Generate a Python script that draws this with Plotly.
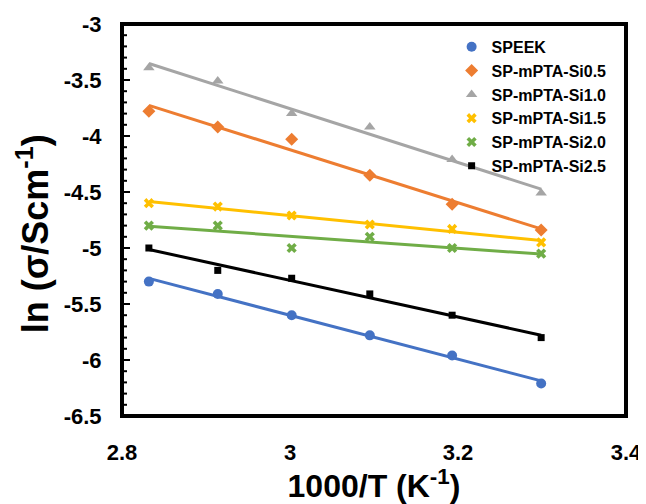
import plotly.graph_objects as go
import numpy as np

# 1000/T (K^-1) for 80,70,60,50,40,30 °C
x_vals = [2.832, 2.914, 3.002, 3.095, 3.193, 3.299]

speek = [-5.30, -5.41, -5.60, -5.78, -5.96, -6.21]
si05 = [-3.78, -3.92, -4.03, -4.35, -4.61, -4.84]
si10 = [-3.39, -3.51, -3.80, -3.92, -4.21, -4.51]
si15 = [-4.60, -4.63, -4.71, -4.79, -4.83, -4.95]
si20 = [-4.80, -4.80, -5.00, -4.90, -5.00, -5.05]
si25 = [-5.00, -5.20, -5.27, -5.41, -5.60, -5.80]

names = ["SPEEK", "SP-mPTA-Si0.5", "SP-mPTA-Si1.0", "SP-mPTA-Si1.5", "SP-mPTA-Si2.0", "SP-mPTA-Si2.5"]
series = [speek, si05, si10, si15, si20, si25]
colors = ["#4472C4", "#ED7D31", "#A5A5A5", "#FFC000", "#70AD47", "#000000"]
symbols = ["circle", "diamond", "triangle-up", "x", "x", "square"]
sizes = [10, 10, 10, 9, 9, 7]

x_range = [2.8, 3.4]
y_range = [-6.5, -3.0]
x_ticks = [2.8, 3.0, 3.2, 3.4]
x_ticktext = ["2.8", "3", "3.2", "3.4"]
y_ticks = [-6.5, -6.0, -5.5, -5.0, -4.5, -4.0, -3.5, -3.0]
y_ticktext = ["-6.5", "-6", "-5.5", "-5", "-4.5", "-4", "-3.5", "-3"]
y_minor_step = 0.1
x_title = "1000/T (K<sup>-1</sup>)"
y_title = "ln (σ/Scm<sup>-1</sup>)"

FONT = "Liberation Sans, Arial, sans-serif"
PLOT_W = 504  # plot-area width in px

fig = go.Figure()

# inside y ticks (major + minor), drawn as a trace so they render reliably
px_x = (x_range[1] - x_range[0]) / PLOT_W
tx, ty = [], []
for v in np.round(np.arange(y_range[0], y_range[1] + 1e-9, y_minor_step), 3):
    is_major = any(abs(v - t) < 1e-6 for t in y_ticks)
    ln = 8 if is_major else 5
    tx += [x_range[0], x_range[0] + ln * px_x, None]
    ty += [v, v, None]
fig.add_trace(go.Scatter(x=tx, y=ty, mode="lines", line=dict(color="black", width=2),
                         showlegend=False, hoverinfo="skip"))

x_arr = np.array(x_vals)
for name, ys, c in zip(names, series, colors):
    k, b = np.polyfit(x_arr, np.array(ys), 1)
    xl = [x_vals[0], x_vals[-1]]
    fig.add_trace(go.Scatter(
        x=xl, y=[k * xv + b for xv in xl], mode="lines",
        line=dict(color=c, width=3), showlegend=False, legendgroup=name,
        hoverinfo="skip"))
for name, ys, c, s, sz in zip(names, series, colors, symbols, sizes):
    fig.add_trace(go.Scatter(
        x=x_vals, y=ys, mode="markers", name="<b>%s</b>" % name, legendgroup=name,
        marker=dict(color=c, symbol=s, size=sz, line=dict(width=0))))

# plot-area frame
fx = [x_range[0], x_range[1], x_range[1], x_range[0], x_range[0]]
fy = [y_range[0], y_range[0], y_range[1], y_range[1], y_range[0]]
fig.add_trace(go.Scatter(x=fx, y=fy, mode="lines", line=dict(color="black", width=4),
                         showlegend=False, hoverinfo="skip"))

# page body has an 8px margin: shift the figure box accordingly
fig.update_layout(
    width=638, height=496,
    margin=dict(l=114, r=20, t=16, b=88, autoexpand=False),
    paper_bgcolor="white", plot_bgcolor="white",
    font=dict(family=FONT, color="black"),
    legend=dict(
        x=0.654, y=0.985, xanchor="left", yanchor="top",
        bgcolor="rgba(0,0,0,0)", font=dict(size=16, family=FONT, color="black"),
        tracegroupgap=0, itemwidth=30,
    ),
    xaxis=dict(
        range=x_range, tickmode="array", tickvals=x_ticks,
        ticktext=["<b>%s</b>" % t for t in x_ticktext],
        showgrid=False, zeroline=False, showline=True, linecolor="black", linewidth=2,
        mirror=True, ticks="", automargin=False, ticklabelstandoff=16,
        tickfont=dict(size=22, family=FONT, color="black"),
        title=dict(text="<b>%s</b>" % x_title, font=dict(size=32, family=FONT), standoff=3),
    ),
    yaxis=dict(
        range=y_range, tickmode="array", tickvals=y_ticks,
        ticktext=["<b>%s</b>" % t for t in y_ticktext],
        showgrid=False, zeroline=False, showline=True, linecolor="black", linewidth=2,
        mirror=True, ticks="", automargin=False, ticklabelstandoff=14,
        tickfont=dict(size=22, family=FONT, color="black"),
    ),
    annotations=[dict(
        text="<b>%s</b>" % y_title, textangle=-90, xref="paper", yref="paper",
        x=-0.176, y=0.5, xanchor="center", yanchor="middle", yshift=-14,
        showarrow=False, font=dict(size=36, family=FONT, color="black"),
    )],
)

fig.write_html("out.html")
